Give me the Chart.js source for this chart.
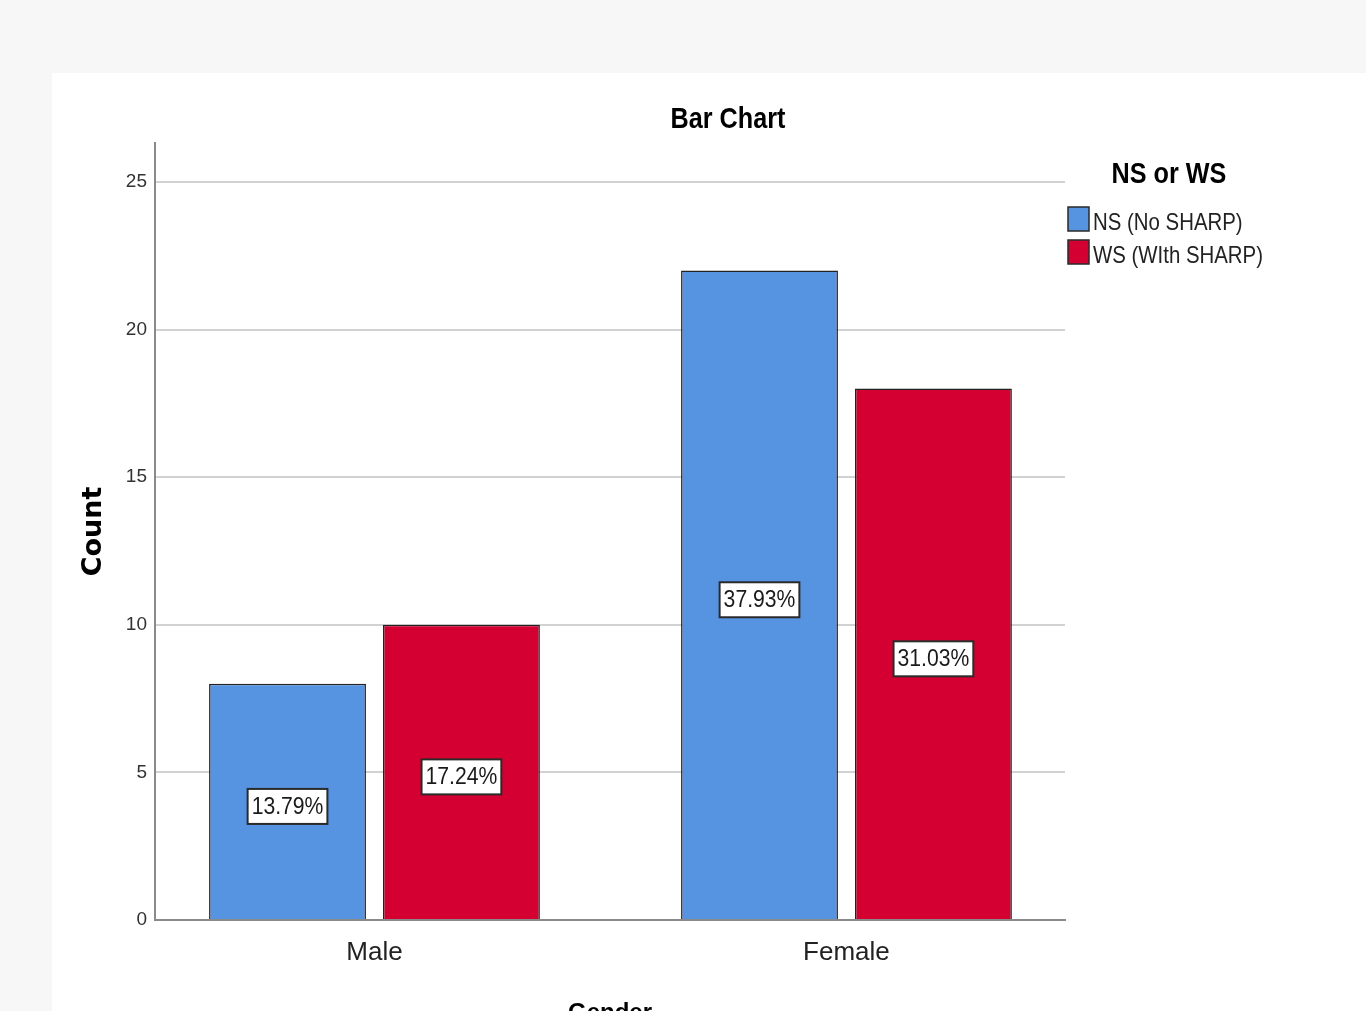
<!DOCTYPE html>
<html>
<head>
<meta charset="utf-8">
<script src="https://cdn.jsdelivr.net/npm/chart.js@4/dist/chart.umd.min.js"></script>
<style>
  html, body { margin: 0; padding: 0; width: 1366px; height: 1011px; overflow: hidden; background: #f7f7f7; }
  #panel { position: absolute; left: 52px; top: 73px; width: 1314px; height: 967px; background: #ffffff; }
</style>
</head>
<body>
<div id="panel"><canvas id="c"></canvas></div>
<script>
const categories = ['Male', 'Female'];
const seriesNames = ['NS (No SHARP)', 'WS (WIth SHARP)'];
const nsCounts = [8, 22];
const wsCounts = [10, 18];
const nsPercents = ['13.79%', '37.93%'];
const wsPercents = ['17.24%', '31.03%'];
const yTicks = [0, 5, 10, 15, 20, 25];

const colors = ['#5694e2', '#d50032'];
const SANS = '"Liberation Sans", Arial, sans-serif';

function toPoints(vals) { return vals.map((v, i) => ({ x: i, y: v })); }

// draw horizontally condensed text (emulates a narrow face)
function narrowText(ctx, txt, x, y, align, font, sx) {
  ctx.save();
  ctx.font = font;
  ctx.textBaseline = 'middle';
  ctx.textAlign = align;
  ctx.translate(x, y);
  ctx.scale(sx, 1);
  ctx.fillText(txt, 0, 0);
  ctx.restore();
}

const overlay = {
  id: 'overlay',
  afterDatasetsDraw(chart) {
    const ctx = chart.ctx;
    const pct = [nsPercents, wsPercents];
    const font = '23px ' + SANS;
    const sx = 0.92;
    chart.data.datasets.forEach((ds, di) => {
      const meta = chart.getDatasetMeta(di);
      meta.data.forEach((el, i) => {
        const txt = pct[di][i];
        const cx = el.x;
        const cy = (el.y + el.base) / 2 + 5;
        ctx.save();
        ctx.font = font;
        const w = ctx.measureText(txt).width * sx + 8;
        const h = 35;
        ctx.fillStyle = '#ffffff';
        ctx.fillRect(cx - w / 2, cy - h / 2, w, h);
        ctx.lineWidth = 2;
        ctx.strokeStyle = '#2a2a2a';
        ctx.strokeRect(cx - w / 2, cy - h / 2, w, h);
        ctx.restore();
        ctx.fillStyle = '#1a1a1a';
        narrowText(ctx, txt, cx, cy + 1, 'center', font, sx);
      });
    });
  },
  afterDraw(chart) {
    const ctx = chart.ctx;
    ctx.save();
    ctx.fillStyle = '#000';
    narrowText(ctx, 'Bar Chart', 676, 47, 'center', 'bold 30px ' + SANS, 0.84);
    narrowText(ctx, 'NS or WS', 1117, 102, 'center', 'bold 30px ' + SANS, 0.84);
    chart.data.datasets.forEach((ds, i) => {
      const top = 134 + i * 33;
      ctx.fillStyle = ds.backgroundColor;
      ctx.fillRect(1016, top, 21, 24);
      ctx.lineWidth = 1.5;
      ctx.strokeStyle = '#2a2a2a';
      ctx.strokeRect(1016, top, 21, 24);
      ctx.fillStyle = '#222';
      narrowText(ctx, ds.label, 1041, top + 16, 'left', '24px ' + SANS, 0.85);
    });
    ctx.restore();
  }
};

new Chart(document.getElementById('c'), {
  type: 'bar',
  data: {
    datasets: [
      { label: seriesNames[0], data: toPoints(nsCounts), backgroundColor: colors[0], borderColor: '#222', borderWidth: 1.5 },
      { label: seriesNames[1], data: toPoints(wsCounts), backgroundColor: colors[1], borderColor: '#222', borderWidth: 1.5 }
    ]
  },
  options: {
    responsive: true,
    maintainAspectRatio: false,
    animation: false,
    categoryPercentage: 0.737,
    barPercentage: 0.902,
    layout: { padding: { top: 70, right: 301, left: 0, bottom: 0 } },
    plugins: { legend: { display: false }, title: { display: false }, tooltip: { enabled: false } },
    scales: {
      x: {
        type: 'linear',
        offset: false,
        min: -0.465,
        max: 1.463,
        afterBuildTicks(scale) { scale.ticks = categories.map((c, i) => ({ value: i })); },
        afterFit(scale) { scale.height = 120; },
        grid: { display: false, drawTicks: false, offset: false },
        border: { display: true, color: '#8a8a8a', width: 2 },
        ticks: {
          padding: 17,
          autoSkip: false,
          maxRotation: 0,
          color: '#222',
          font: { family: SANS, size: 26 },
          callback: (v) => categories[v]
        },
        title: { display: true, text: 'Gender', color: '#000', font: { family: SANS, size: 24, weight: 'bold' }, padding: { top: 0, bottom: 12 } }
      },
      y: {
        min: 0,
        max: 26.32,
        afterBuildTicks(scale) { scale.ticks = yTicks.map(v => ({ value: v })); },
        afterFit(scale) { scale.width = 103; },
        grid: { color: '#d2d2d2', lineWidth: 2, drawTicks: false },
        border: { display: true, color: '#8a8a8a', width: 2 },
        ticks: { padding: 8, color: '#333', font: { family: SANS, size: 19 } },
        title: { display: true, text: 'Count', color: '#000', font: { family: 'DejaVu Sans, sans-serif', size: 27, weight: 'bold' }, padding: { top: 26, bottom: 0 } }
      }
    }
  },
  plugins: [overlay]
});
</script>
</body>
</html>
